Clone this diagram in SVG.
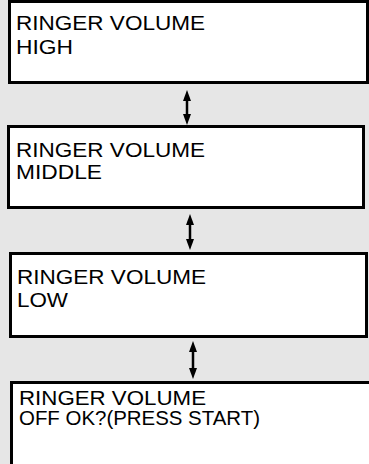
<svg xmlns="http://www.w3.org/2000/svg" width="369" height="464" viewBox="0 0 369 464">
<style>
.box{fill:#ffffff;stroke:#000000;stroke-width:3}
.t{font-family:"Liberation Sans",Arial,sans-serif;font-size:19.5px;fill:#000000}
.shaft{stroke:#000000;stroke-width:2.5}
.head{fill:#000000}
</style>
<rect width="369" height="464" fill="#e6e6e6"/>
<g id="node-high">
<rect class="box" x="9.5" y="1.5" width="358" height="81"/>
<text class="t" x="16" y="29.5" textLength="189" lengthAdjust="spacingAndGlyphs">RINGER VOLUME</text>
<text class="t" x="16" y="54" textLength="57" lengthAdjust="spacingAndGlyphs">HIGH</text>
</g>
<g id="node-middle">
<rect class="box" x="8.5" y="126.5" width="355" height="81"/>
<text class="t" x="16" y="156.5" textLength="189" lengthAdjust="spacingAndGlyphs">RINGER VOLUME</text>
<text class="t" x="16" y="179" textLength="86" lengthAdjust="spacingAndGlyphs">MIDDLE</text>
</g>
<g id="node-low">
<rect class="box" x="10.5" y="253.5" width="356" height="83"/>
<text class="t" x="17" y="284" textLength="189" lengthAdjust="spacingAndGlyphs">RINGER VOLUME</text>
<text class="t" x="17" y="306.5" textLength="51" lengthAdjust="spacingAndGlyphs">LOW</text>
</g>
<g id="node-off">
<rect class="box" x="11.5" y="382.5" width="360" height="100"/>
<text class="t" x="19" y="405" textLength="187" lengthAdjust="spacingAndGlyphs">RINGER VOLUME</text>
<text class="t" x="19" y="425" textLength="241" lengthAdjust="spacingAndGlyphs">OFF OK?(PRESS START)</text>
</g>
<g id="connectors">
<line class="shaft" x1="187" y1="98" x2="187" y2="117"/>
<polygon class="head" points="187,90 183,101 191,101"/>
<polygon class="head" points="187,125 183,114 191,114"/>
<line class="shaft" x1="190" y1="222" x2="190" y2="242"/>
<polygon class="head" points="190,214 186,225 194,225"/>
<polygon class="head" points="190,250 186,239 194,239"/>
<line class="shaft" x1="193" y1="349" x2="193" y2="371"/>
<polygon class="head" points="193,341 189,352 197,352"/>
<polygon class="head" points="193,379 189,368 197,368"/>
</g>
</svg>
